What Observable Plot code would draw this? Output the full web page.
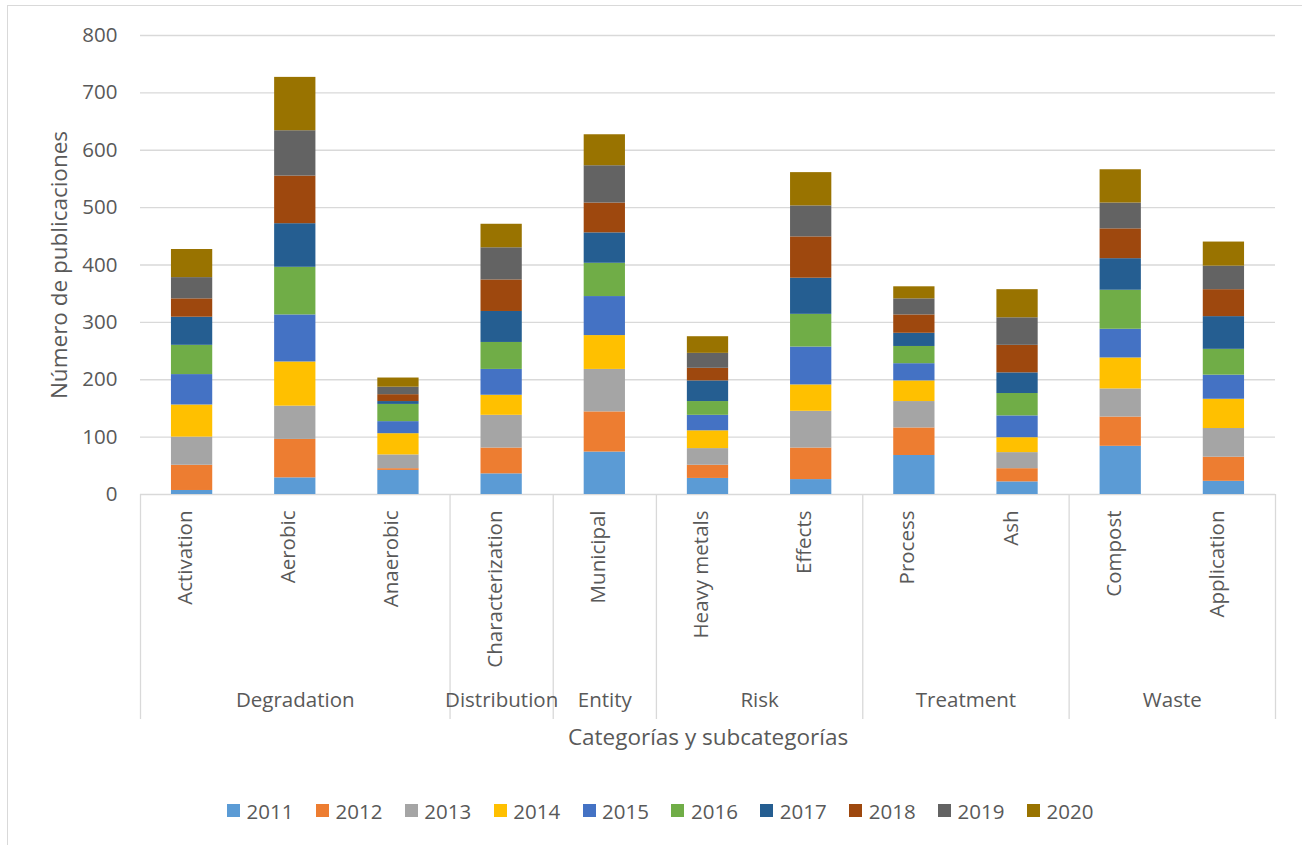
<!DOCTYPE html>
<html>
<head>
<meta charset="utf-8">
<script src="https://cdn.jsdelivr.net/npm/d3@7"></script>
<script src="https://cdn.jsdelivr.net/npm/@observablehq/plot@0.6"></script>
<style>
  html, body { margin: 0; padding: 0; background: #fff; }
  #chart { position: relative; width: 1302px; height: 845px; overflow: hidden; font-family: "Open Sans", sans-serif; }
  #frame { position: absolute; left: 7px; top: 5px; width: 1400px; height: 900px; border: 1px solid #d9d9d9; pointer-events: none; }
  #legend { position: absolute; left: 227px; top: 794px; }
  .yrs-swatches { font-family: "Open Sans", sans-serif !important; font-size: 20.5px !important; color: #595959 !important; margin: 0 !important; }
  .yrs-swatches-wrap { min-height: 33px !important; }
  .yrs-swatch { margin-right: 22.4px !important; }
  .yrs-swatch > svg { margin-right: 6.6px !important; }
</style>
</head>
<body>
<div id="chart"><div id="frame"></div><div id="legend"></div></div>
<script>
// Subcategories along the x axis and the category each one belongs to
const subcategories = ["Activation", "Aerobic", "Anaerobic", "Characterization", "Municipal",
  "Heavy metals", "Effects", "Process", "Ash", "Compost", "Application"];
const categoryOfSub = ["Degradation", "Degradation", "Degradation", "Distribution", "Entity",
  "Risk", "Risk", "Treatment", "Treatment", "Waste", "Waste"];
const categories = ["Degradation", "Distribution", "Entity", "Risk", "Treatment", "Waste"];

// Publication years (stack order, bottom to top) and their colours
const years = ["2011", "2012", "2013", "2014", "2015", "2016", "2017", "2018", "2019", "2020"];
const yearColors = ["#5B9BD5", "#ED7D31", "#A5A5A5", "#FFC000", "#4472C4",
  "#70AD47", "#255E91", "#9E480E", "#636363", "#997300"];

// Publications per subcategory, one array per year (same order as subcategories)
const pubs2011 = [7, 29, 42, 36, 74, 28, 26, 68, 22, 84, 23];
const pubs2012 = [44, 67, 3, 45, 70, 23, 55, 48, 23, 51, 42];
const pubs2013 = [49, 58, 24, 57, 74, 29, 64, 46, 28, 49, 50];
const pubs2014 = [56, 77, 37, 35, 59, 31, 46, 36, 26, 54, 51];
const pubs2015 = [53, 82, 21, 45, 68, 27, 66, 30, 38, 50, 42];
const pubs2016 = [51, 83, 30, 47, 58, 24, 57, 30, 39, 68, 45];
const pubs2017 = [49, 76, 5, 54, 53, 36, 63, 23, 36, 55, 57];
const pubs2018 = [32, 83, 12, 55, 52, 22, 72, 32, 48, 52, 47];
const pubs2019 = [37, 79, 13, 56, 65, 26, 54, 28, 48, 45, 41];
const pubs2020 = [49, 93, 16, 41, 54, 29, 58, 21, 49, 58, 42];
const seriesByYear = [pubs2011, pubs2012, pubs2013, pubs2014, pubs2015,
  pubs2016, pubs2017, pubs2018, pubs2019, pubs2020];

// Axis ticks and titles
const yTicks = [0, 100, 200, 300, 400, 500, 600, 700, 800];
const yTitle = "Número de publicaciones";
const xTitle = "Categorías y subcategorías";

// Long-format table: for each subcategory, years in stacking order
const rows = [];
subcategories.forEach((sub, i) => {
  years.forEach((yr, k) => rows.push({sub, year: yr, value: seriesByYear[k][i]}));
});

// Category groups with their member subcategories
const groups = categories.map(name => ({
  name,
  subs: subcategories.filter((s, i) => categoryOfSub[i] === name)
}));

// Layout
const W = 1302, H = 780;
const mL = 140, mR = 27, mT = 35, mB = H - 494;
const step = (W - mL - mR) / subcategories.length;
const pxPerUnit = (H - mT - mB) / 800;
const textColor = "#595959";
const gridColor = "#d9d9d9";
const labelSize = 20.5;
const titleSize = 22.5;

const groupLabel = (n) => Plot.text(groups.filter(g => g.subs.length === n), {
  x: g => g.subs[0], text: "name", frameAnchor: "bottom",
  dx: (n - 1) / 2 * step, dy: 212, fontSize: labelSize, fill: textColor
});

const chart = Plot.plot({
  width: W,
  height: H,
  marginLeft: mL, marginRight: mR, marginTop: mT, marginBottom: mB,
  style: {fontFamily: "'Open Sans', sans-serif", fontSize: labelSize + "px", color: textColor, background: "transparent"},
  x: {type: "band", domain: subcategories, paddingInner: 0.6, paddingOuter: 0.3, round: false, axis: null},
  y: {domain: [0, 800], axis: null},
  color: {domain: years, range: yearColors},
  marks: [
    Plot.gridY(yTicks.filter(t => t > 0), {stroke: gridColor, strokeOpacity: 1, strokeWidth: 1.3}),
    Plot.ruleY([0], {stroke: gridColor, strokeWidth: 1.3}),
    Plot.axisY(yTicks, {tickSize: 0, tickPadding: 23, fontSize: labelSize, fill: textColor, label: null}),
    Plot.barY(rows, {x: "sub", y: "value", fill: "year"}),
    // Category separators below the axis
    Plot.ruleX(groups, {x: g => g.subs[0], dx: -step / 2, y1: 0, y2: -225 / pxPerUnit, stroke: gridColor, strokeWidth: 1.3}),
    Plot.ruleX([subcategories[subcategories.length - 1]], {x: d => d, dx: step / 2, y1: 0, y2: -225 / pxPerUnit, stroke: gridColor, strokeWidth: 1.3}),
    // Subcategory labels, rotated
    Plot.text(subcategories, {x: d => d, text: d => d, frameAnchor: "bottom", dy: 16,
      rotate: -90, textAnchor: "end", fontSize: labelSize, fill: textColor}),
    // Category labels centred under their subcategories
    groupLabel(1), groupLabel(2), groupLabel(3),
    // Axis titles
    Plot.text([xTitle], {text: d => d, frameAnchor: "bottom", dy: 250, fontSize: titleSize, fill: textColor}),
    Plot.text([yTitle], {text: d => d, frameAnchor: "left", textAnchor: "middle", dx: -81, rotate: -90, fontSize: titleSize, fill: textColor})
  ]
});
document.getElementById("chart").prepend(chart);

const legend = Plot.legend({
  color: {domain: years, range: yearColors},
  legend: "swatches",
  swatchSize: 13,
  className: "yrs",
  style: {fontFamily: "'Open Sans', sans-serif", fontSize: "20.5px", color: textColor}
});
document.getElementById("legend").appendChild(legend);
</script>
</body>
</html>
